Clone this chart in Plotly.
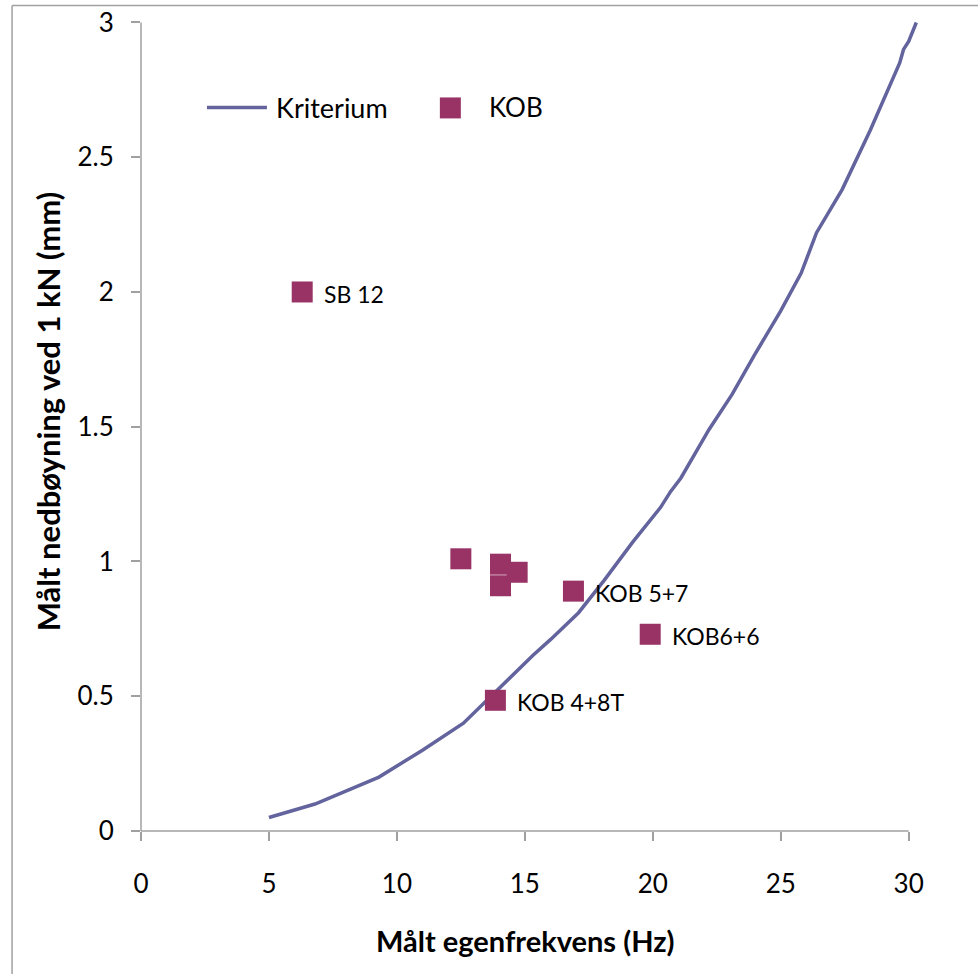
import plotly.graph_objects as go

# Criterion curve (frequency in Hz vs. deflection in mm)
krit_x = [5.0, 6.8, 9.3, 11.0, 12.6, 14.0, 15.3, 16.0, 17.1, 18.1, 19.2, 20.3, 20.7,
          21.1, 22.2, 23.1, 24.0, 25.0, 25.8, 26.4, 27.4, 28.5, 29.4, 29.65, 29.8,
          30.0, 30.3]
krit_y = [0.05, 0.10, 0.20, 0.30, 0.40, 0.53, 0.65, 0.71, 0.81, 0.93, 1.07, 1.20, 1.26,
          1.31, 1.49, 1.62, 1.77, 1.93, 2.07, 2.22, 2.38, 2.60, 2.79, 2.85, 2.90,
          2.93, 3.00]

# Measured floors
kob_x = [6.3, 12.5, 14.05, 14.05, 14.7, 16.9, 19.9, 13.85]
kob_y = [2.0, 1.01, 0.99, 0.91, 0.96, 0.89, 0.73, 0.485]
kob_labels = ["SB 12", "", "", "", "", "KOB 5+7", "KOB6+6", "KOB 4+8T"]

x_ticks = [0, 5, 10, 15, 20, 25, 30]
y_ticks = [0, 0.5, 1, 1.5, 2, 2.5, 3]

LINE_COLOR = "#63639E"
MARK_COLOR = "#993366"
AXIS_COLOR = "#A0A0A0"
FONT = "Lato, 'Open Sans', sans-serif"

W, H = 978, 974
# axis extents: the axis lines stop at 30 / 3, the curve may run slightly past them
X_AXIS_MAX, Y_AXIS_MAX = 30, 3
X_RANGE_MAX, Y_RANGE_MAX = 30.6, 3.05
X0_PX, Y0_PX = 141, 831          # pixel position of the origin
XU, YU = 25.6, 809 / 3           # pixels per unit
L = X0_PX
R = X0_PX + X_RANGE_MAX * XU
B = Y0_PX
T = Y0_PX - Y_RANGE_MAX * YU


def px(xp):
    return (xp - L) / (R - L)


def py(yp):
    return (B - yp) / (B - T)


fig = go.Figure()
fig.add_trace(go.Scatter(x=krit_x, y=krit_y, mode="lines", name="Kriterium",
                         line=dict(color=LINE_COLOR, width=3.5), showlegend=False))
fig.add_trace(go.Scatter(x=kob_x, y=kob_y, mode="markers", name="KOB",
                         marker=dict(symbol="square", size=21, color=MARK_COLOR,
                                     line=dict(width=0)),
                         showlegend=False))

annotations = []
for x, y, t in zip(kob_x, kob_y, kob_labels):
    if t:
        annotations.append(dict(x=x, y=y, xref="x", yref="y", text=t, showarrow=False,
                                xanchor="left", yanchor="middle", xshift=20, yshift=-2,
                                font=dict(family=FONT, size=23, color="black")))

# Legend
annotations.append(dict(x=px(274), y=py(107), xref="paper", yref="paper", text="Kriterium",
                        showarrow=False, xanchor="left", yanchor="middle",
                        font=dict(family=FONT, size=27, color="black")))
annotations.append(dict(x=px(487), y=py(107), xref="paper", yref="paper", text="KOB",
                        showarrow=False, xanchor="left", yanchor="middle",
                        font=dict(family=FONT, size=26, color="black")))

# Axis titles
annotations.append(dict(x=px(525), y=py(941), xref="paper", yref="paper",
                        text="<b>Målt egenfrekvens (Hz)</b>", showarrow=False,
                        xanchor="center", yanchor="middle",
                        font=dict(family=FONT, size=29, color="black")))
annotations.append(dict(x=px(48), y=py(411), xref="paper", yref="paper",
                        text="<b>Målt nedbøyning ved 1 kN (mm)</b>", showarrow=False,
                        textangle=-90, xanchor="center", yanchor="middle",
                        font=dict(family=FONT, size=31, color="black")))

shapes = [
    # axis lines
    dict(type="line", xref="paper", yref="paper", x0=0, x1=px(X0_PX + X_AXIS_MAX * XU),
         y0=0, y1=0, line=dict(color=AXIS_COLOR, width=1.5)),
    dict(type="line", xref="paper", yref="paper", x0=0, x1=0,
         y0=0, y1=py(Y0_PX - Y_AXIS_MAX * YU), line=dict(color=AXIS_COLOR, width=1.5)),
    # legend symbols
    dict(type="line", xref="paper", yref="paper", x0=px(207), x1=px(267),
         y0=py(107), y1=py(107), line=dict(color=LINE_COLOR, width=3.5)),
    dict(type="rect", xref="paper", yref="paper", x0=px(440), x1=px(461),
         y0=py(97), y1=py(118), fillcolor=MARK_COLOR, line=dict(width=0)),
    # chart frame (left and top edges)
    dict(type="line", xref="paper", yref="paper", x0=px(12), x1=px(12),
         y0=py(5), y1=py(H + 5), line=dict(color=AXIS_COLOR, width=1.5)),
    dict(type="line", xref="paper", yref="paper", x0=px(12), x1=px(W + 5),
         y0=py(5), y1=py(5), line=dict(color=AXIS_COLOR, width=1.5)),
]

axis_common = dict(showgrid=False, zeroline=False, showline=False, automargin=False,
                   ticks="outside", ticklen=9, tickcolor=AXIS_COLOR, tickwidth=1.5,
                   tickfont=dict(family=FONT, size=26, color="black"))

fig.update_layout(
    width=W, height=H,
    margin=dict(l=L, r=W - R, t=T, b=H - B, pad=0),
    plot_bgcolor="white", paper_bgcolor="white",
    xaxis=dict(range=[0, X_RANGE_MAX], tickvals=x_ticks, ticklabelstandoff=21,
               **axis_common),
    yaxis=dict(range=[0, Y_RANGE_MAX], tickvals=y_ticks,
               ticktext=[f"{v:g}" for v in y_ticks], ticklabelstandoff=12,
               **axis_common),
    annotations=annotations,
    shapes=shapes,
    showlegend=False,
)

fig.write_html("out.html")
